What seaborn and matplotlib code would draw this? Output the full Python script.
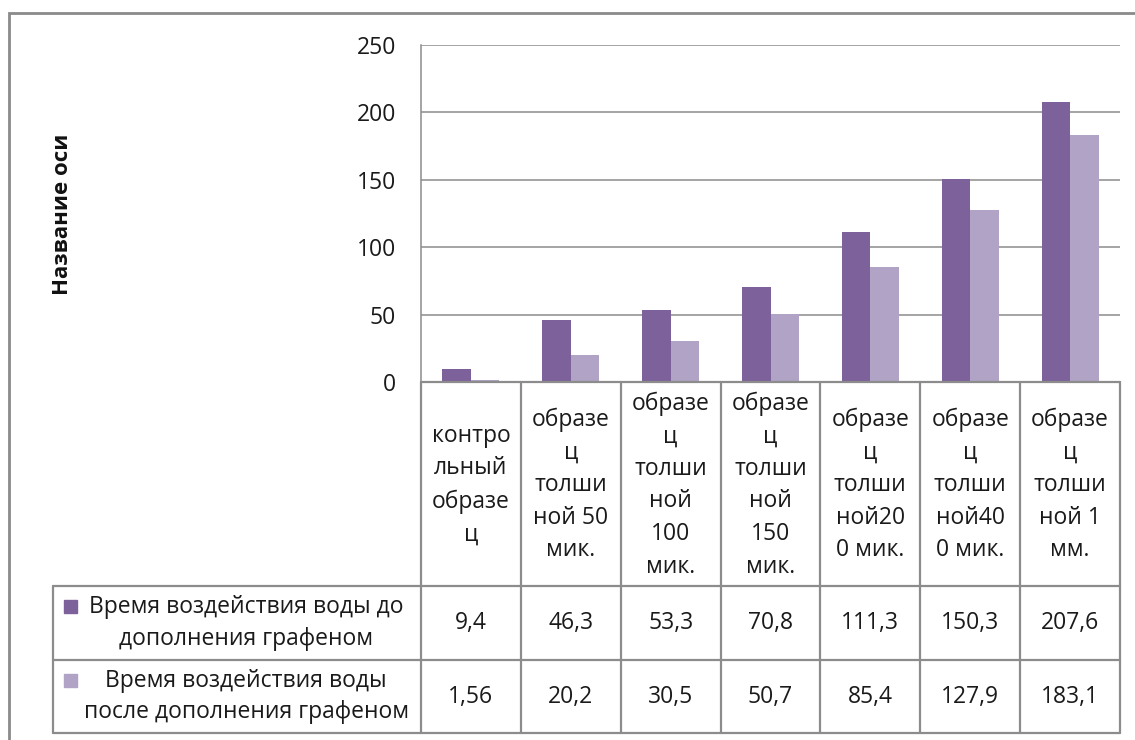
import matplotlib
matplotlib.use("Agg")
import matplotlib.pyplot as plt
import seaborn as sns
import pandas as pd
from matplotlib.patches import Rectangle
from matplotlib.lines import Line2D
import matplotlib.transforms as mtransforms

# ---- data ----
categories = [
    "контро\nльный\nобразе\nц",
    "образе\nц\nтолши\nной 50\nмик.",
    "образе\nц\nтолши\nной\n100\nмик.",
    "образе\nц\nтолши\nной\n150\nмик.",
    "образе\nц\nтолши\nной20\n0 мик.",
    "образе\nц\nтолши\nной40\n0 мик.",
    "образе\nц\nтолши\nной 1\nмм.",
]
series_names = [
    "Время воздействия воды до\nдополнения графеном",
    "Время воздействия воды\nпосле дополнения графеном",
]
before_values = [9.4, 46.3, 53.3, 70.8, 111.3, 150.3, 207.6]
after_values = [1.56, 20.2, 30.5, 50.7, 85.4, 127.9, 183.1]
yticks = [0, 50, 100, 150, 200, 250]
axis_title = "Название оси"
colors = ["#7D619A", "#B1A3C6"]

# ---- style ----
sns.set_style("white")
plt.rcParams["font.family"] = ["Open Sans", "DejaVu Sans"]
FS = 16.5
GRAY = "#8C8C8C"
TXT = "#1a1a1a"

W, H = 1135, 740
fig = plt.figure(figsize=(W / 100, H / 100), dpi=100)

def fx(px):
    return px / W

def fy(py):
    return 1 - py / H

ax_l, ax_r, ax_t, ax_b = 421, 1120, 45, 382
ax = fig.add_axes([fx(ax_l), fy(ax_b), fx(ax_r) - fx(ax_l), fy(ax_t) - fy(ax_b)])

df = pd.DataFrame({
    "cat": list(range(len(categories))) * 2,
    "val": before_values + after_values,
    "series": [series_names[0]] * len(categories) + [series_names[1]] * len(categories),
})
df["cat"] = df["cat"].astype(str)
sns.barplot(data=df, x="cat", y="val", hue="series", palette=colors,
            width=0.57, gap=0, ax=ax, legend=False, linewidth=0, saturation=1)

ax.set_xlim(-0.5, len(categories) - 0.5)
ax.set_ylim(0, 250)
ax.set_yticks(yticks)
ax.set_yticklabels([str(v) for v in yticks], fontsize=FS, color=TXT)
ax.tick_params(axis="y", length=0, pad=18)
ax.set_xticks([])
ax.set_xlabel("")
ax.set_ylabel("")
ax.yaxis.grid(True, color=GRAY, linewidth=1.1)
ax.set_axisbelow(True)
for s in ["top", "right", "bottom"]:
    ax.spines[s].set_visible(False)
ax.spines["left"].set_color(GRAY)
ax.spines["left"].set_linewidth(1.1)

# axis title
fig.text(fx(62), fy(214), axis_title, rotation=90, ha="center", va="center",
         fontsize=16, fontweight="bold", color="#111111")

# ---- data table ----
blend = mtransforms.blended_transform_factory(ax.transData, fig.transFigure)
row_top, row1, row2, row_bot = 382, 586, 660, 733
leg_left = 53
lw = 1.6

def hline(py, x0, x1):
    fig.add_artist(Line2D([fx(x0), fx(x1)], [fy(py), fy(py)], color=GRAY, lw=lw,
                          transform=fig.transFigure))

hline(row_top, ax_l, ax_r)
for py in (row1, row2, row_bot):
    hline(py, leg_left, ax_r)
fig.add_artist(Line2D([fx(leg_left)] * 2, [fy(row1), fy(row_bot)], color=GRAY, lw=lw,
                      transform=fig.transFigure))
for k in range(len(categories) + 1):
    xb = k - 0.5
    fig.add_artist(Line2D([xb, xb], [fy(row_top), fy(row_bot)], color=GRAY, lw=lw,
                          transform=blend))

for i, c in enumerate(categories):
    fig.text(i, fy((row_top + row1) / 2 + 1), c, transform=blend, ha="center", va="center",
             fontsize=FS, linespacing=1.48, color=TXT)

def fmt(v):
    return str(v).replace(".", ",")

for r, (vals, py0, py1) in enumerate([(before_values, row1, row2), (after_values, row2, row_bot)]):
    for i, v in enumerate(vals):
        fig.text(i, fy((py0 + py1) / 2), fmt(v), transform=blend, ha="center", va="center",
                 fontsize=FS, color=TXT)
    fig.text(fx(246), fy((py0 + py1) / 2), series_names[r], ha="center", va="center",
             multialignment="center", fontsize=FS, linespacing=1.41, color=TXT)
    fig.add_artist(Rectangle((fx(64), fy(py0 + 27)), fx(13), 13 / H, color=colors[r],
                             transform=fig.transFigure))

# outer chart frame
fig.add_artist(Rectangle((fx(9), fy(H + 20)), 1.2, fy(13) - fy(H + 20), fill=False,
                         edgecolor="#8A8A8A", lw=2, transform=fig.transFigure))

fig.savefig("out.png", dpi=100)
